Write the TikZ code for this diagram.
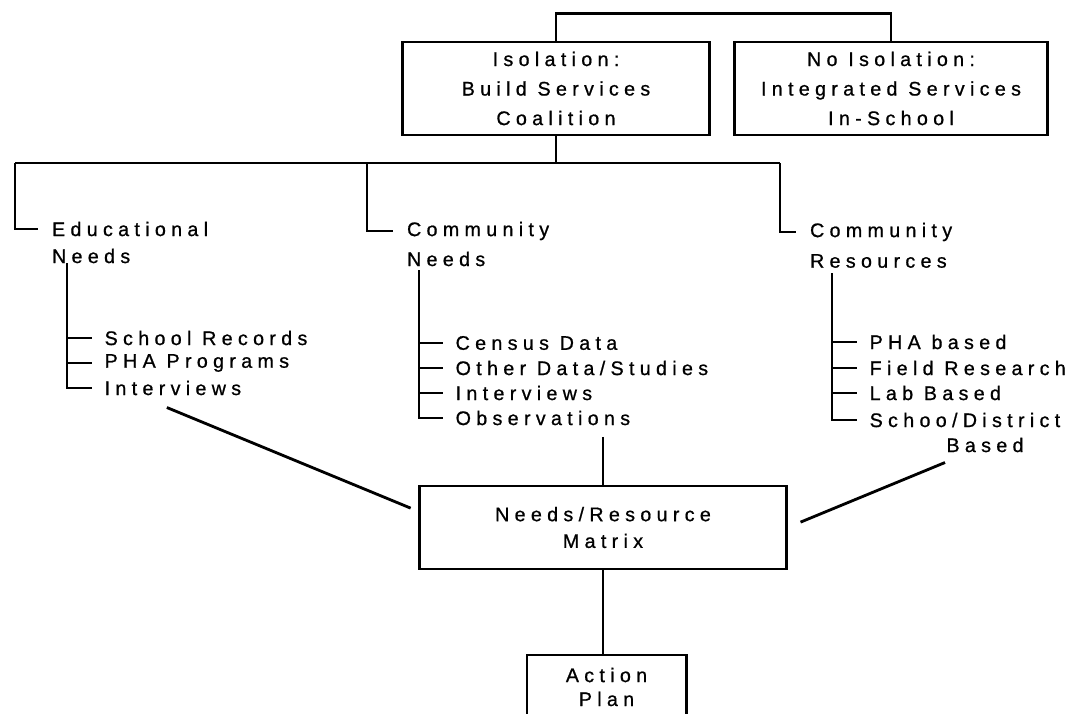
\documentclass[tikz,border=0pt]{standalone}
\usepackage{fontspec}
\setmainfont{Liberation Sans}[LetterSpace=27, FakeBold=0.8]

\begin{document}
\begin{tikzpicture}[x=0.025cm, y=-0.025cm,
  box/.style={draw, line width=2.1pt, align=center, inner sep=0pt, font=\fontsize{14pt}{21pt}\selectfont},
  head/.style={anchor=west, inner sep=0pt, outer xsep=10pt, font=\fontsize{14pt}{16pt}\selectfont},
  item/.style={anchor=west, inner sep=0pt, outer xsep=9pt, font=\fontsize{14pt}{16pt}\selectfont},
  wire/.style={line width=2pt}]
\useasboundingbox (0,0) rectangle (1086,713);
\clip (0,0) rectangle (1086,713);
\node [box, minimum width=7.65cm, minimum height=2.325cm] (iso) at (556,88.5) {Isolation:\\Build Services\\Coalition};
\node [box, minimum width=7.8cm, minimum height=2.325cm] (noiso) at (891,88.5) {No Isolation:\\Integrated Services\\In-School};
\coordinate (busL) at (15,163);
\coordinate (busM) at (367,163);
\coordinate (busR) at (780,163);
\node [head] (edu) at (38,229) {Educational};
\node [head] (edun) at (38,256) {Needs};
\node [head] (cn) at (393,231) {Community};
\node [head] (cnn) at (393,259) {Needs};
\node [head] (cr) at (796,232) {Community};
\node [head] (crr) at (796,261) {Resources};
\coordinate (eduT) at (67,263);
\coordinate (cnT) at (419,270);
\coordinate (crT) at (832,273);
\node [item] (esr) at (92,338) {School Records};
\node [item] (epha) at (92,363) {PHA Programs};
\node [item] (eint) at (92,388) {Interviews};
\node [item] (ncen) at (443,343) {Census Data};
\node [item] (noth) at (443,368) {Other Data/Studies};
\node [item] (nint) at (443,393) {Interviews};
\node [item] (nobs) at (443,418) {Observations};
\node [item] (rpha) at (857,342) {PHA based};
\node [item] (rfield) at (857,368) {Field Research};
\node [item] (rlab) at (857,393) {Lab Based};
\node [item] (rsch) at (857,420) {Schoo/District};
\node [item, anchor=center] (rbased) at (985,445) {Based};
\node [box, minimum width=9.15cm, minimum height=2.075cm, font=\fontsize{14pt}{19pt}\selectfont] (mat) at (603,527.5) {Needs/Resource\\Matrix};
\node [box, minimum width=3.975cm, minimum height=1.6cm, font=\fontsize{14pt}{17pt}\selectfont] (act) at (606.5,687) {Action\\Plan};
\draw [wire] (iso.north) -- ++(0,-27) -| (noiso.north);
\draw [wire] (iso.south) -- (iso.south |- busL);
\draw [wire] (busL) -- (busR);
\draw [wire] (busL) |- (edu.west);
\draw [wire] (busM) |- (cn.west);
\draw [wire] (busR) |- (cr.west);
\draw [wire] (eduT) |- (eint.west);
\draw [wire] (eduT |- esr.west) -- (esr.west);
\draw [wire] (eduT |- epha.west) -- (epha.west);
\draw [wire] (cnT) |- (nobs.west);
\draw [wire] (cnT |- ncen.west) -- (ncen.west);
\draw [wire] (cnT |- noth.west) -- (noth.west);
\draw [wire] (cnT |- nint.west) -- (nint.west);
\draw [wire] (crT) |- (rsch.west);
\draw [wire] (crT |- rpha.west) -- (rpha.west);
\draw [wire] (crT |- rfield.west) -- (rfield.west);
\draw [wire] (crT |- rlab.west) -- (rlab.west);
\draw [wire, shorten >=6pt] ([shift={(-6,12)}]eint.south) -- (mat.175);
\draw [wire, shorten >=10pt] ([shift={(-40,10)}]rbased.south) -- (mat.east);
\draw [wire, shorten <=8pt] (mat.north |- nobs.south) -- (mat.north);
\draw [wire] (mat.south) -- (mat.south |- act.north);
\end{tikzpicture}
\end{document}
